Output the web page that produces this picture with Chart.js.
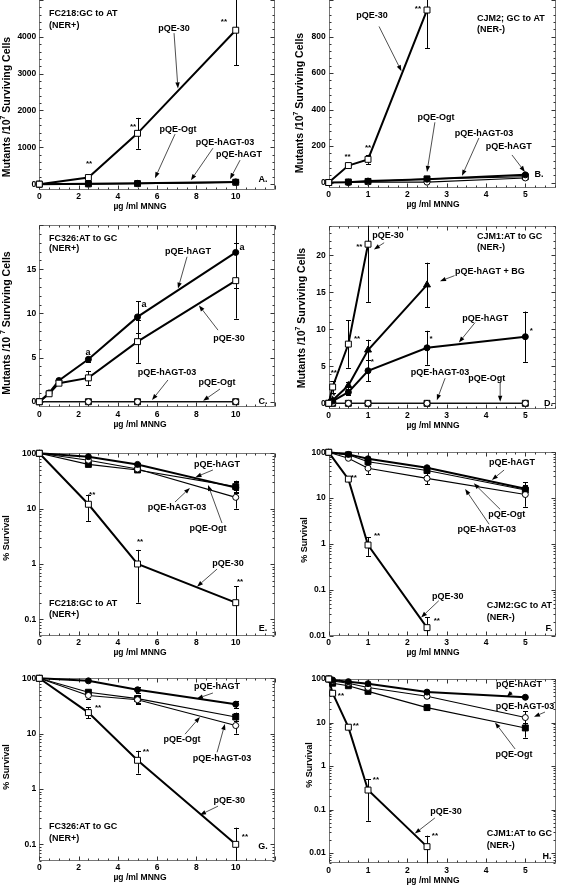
<!DOCTYPE html>
<html><head><meta charset="utf-8">
<script src="https://cdn.jsdelivr.net/npm/chart.js@4.4.1/dist/chart.umd.min.js"></script>
<style>
html,body{margin:0;padding:0;background:#fff;}
body{width:565px;height:888px;position:relative;overflow:hidden;}
canvas{position:absolute;}
</style></head><body>
<canvas id="pA"></canvas><canvas id="pB"></canvas>
<canvas id="pC"></canvas><canvas id="pD"></canvas>
<canvas id="pE"></canvas><canvas id="pF"></canvas>
<canvas id="pG"></canvas><canvas id="pH"></canvas>
<script>
const FONT = '"Liberation Sans", Arial, Helvetica, sans-serif';

// ---------- tick labels ----------
const xTicksWide = [0, 2, 4, 6, 8, 10];
const xTicksNarrow = [0, 1, 2, 3, 4, 5];
const yTicksA = [0, 1000, 2000, 3000, 4000];
const yTicksB = [0, 200, 400, 600, 800];
const yTicksC = [0, 5, 10, 15];
const yTicksD = [0, 5, 10, 15, 20];
const yTicksLog3 = [0.1, 1, 10, 100];
const yTicksLog4 = [0.01, 0.1, 1, 10, 100];

// ---------- Panel A: FC218 GC->AT (NER+), mutants ----------
const doseA = [0, 2.5, 5, 10];
const pqe30A = [0, 180, 1380, 4180];
const pqe30AErr = [0, 0, 420, 950];
const hagtA = [0, 12, 22, 62];
const hagt03A = [0, 4, 12, 45];
const ogtA = [0, 8, 16, 52];

// ---------- Panel B: CJM2 GC->AT (NER-), mutants ----------
const doseB = [0, 0.5, 1, 2.5, 5];
const pqe30B = [0, 93, 127, 945];
const pqe30BErr = [0, 8, 25, 210];
const hagtB = [0, 2, 8, 18, 42];
const hagt03B = [0, 0, 3, 2, 25];
const ogtB = [0, 3, 6, 20, 32];

// ---------- Panel C: FC326 AT->GC (NER+), mutants ----------
const doseC = [0, 0.5, 1, 2.5, 5, 10];
const hagtC = [0, 1.0, 2.4, 4.8, 9.6, 16.9];
const hagtCErr = [0, 0, 0, 0.3, 1.8, 4.0];
const pqe30C = [0, 0.9, 2.1, 2.7, 6.8, 13.7];
const pqe30CErr = [0, 0, 0, 0.8, 2.4, 4.3];
const doseC2 = [0, 2.5, 5, 10];
const hagt03C = [0, 0, 0, 0];
const ogtC = [0, 0, 0, 0];

// ---------- Panel D: CJM1 AT->GC (NER-), mutants ----------
const doseD = [0, 0.1, 0.5, 1, 2.5, 5];
const pqe30D = [0, 2.2, 8.0, 21.5];
const pqe30DErr = [0, 0.8, 3.2, 7.8];
const bgD = [0, 0.4, 2.4, 7.2, 16.0];
const bgDErr = [0, 0.2, 0.5, 1.4, 3.0];
const hagtD = [0, 0.3, 1.5, 4.4, 7.5, 9.0];
const hagtDErr = [0, 0.2, 0.4, 1.4, 2.3, 3.4];
const hagt03D = [0, 0, 0, 0, 0, 0];
const ogtD = [0, 0, 0, 0, 0, 0];

// ---------- Panel E: FC218 survival ----------
const doseE = [0, 2.5, 5, 10];
const pqe30E = [100, 12, 1.0, 0.2];
const pqe30ELo = [100, 6, 0.2, 0.01];
const pqe30EHi = [100, 18, 1.8, 0.4];
const hagtE = [100, 87, 63, 24];
const hagtELo = [100, 80, 58, 20];
const hagtEHi = [100, 94, 68, 30];
const ogtE = [100, 63, 50, 25];
const ogtELo = [100, 58, 45, 19];
const ogtEHi = [100, 70, 55, 32];
const hagt03E = [100, 75, 52, 16];
const hagt03ELo = [100, 68, 46, 10];
const hagt03EHi = [100, 82, 58, 22];

// ---------- Panel F: CJM2 survival ----------
const doseF = [0, 0.5, 1, 2.5, 5];
const pqe30F = [100, 26, 0.95, 0.015];
const pqe30FLo = [100, 24, 0.55, 0.005];
const pqe30FHi = [100, 28, 1.4, 0.025];
const hagtF = [100, 90, 72, 46, 16];
const hagtFLo = [100, 86, 66, 42, 14];
const hagtFHi = [100, 94, 78, 50, 19];
const ogtF = [100, 88, 62, 40, 15];
const ogtFLo = [100, 84, 56, 36, 13];
const ogtFHi = [100, 92, 68, 44, 18];
const hagt03F = [100, 74, 45, 27, 12];
const hagt03FLo = [100, 70, 34, 20, 6.5];
const hagt03FHi = [100, 80, 55, 35, 22];

// ---------- Panel G: FC326 survival ----------
const doseG = [0, 2.5, 5, 10];
const pqe30G = [100, 24, 3.3, 0.1];
const pqe30GLo = [100, 19, 1.9, 0.02];
const pqe30GHi = [100, 30, 4.9, 0.2];
const hagtG = [100, 90, 62, 34];
const hagtGLo = [100, 84, 55, 29];
const hagtGHi = [100, 96, 70, 39];
const ogtG = [100, 56, 43, 20];
const ogtGLo = [100, 50, 36, 17];
const ogtGHi = [100, 62, 50, 24];
const hagt03G = [100, 49, 41, 14];
const hagt03GLo = [100, 43, 35, 10];
const hagt03GHi = [100, 55, 48, 17];

// ---------- Panel H: CJM1 survival ----------
const doseH = [0, 0.1, 0.5, 1, 2.5, 5];
const pqe30H = [100, 47, 7.8, 0.28, 0.014];
const pqe30HLo = [100, 45, 7.3, 0.055, 0.003];
const pqe30HHi = [100, 49, 8.3, 0.5, 0.025];
const hagtH = [100, 95, 87, 78, 50, 38];
const hagtHLo = [100, 92, 84, 74, 46, 36];
const hagtHHi = [100, 98, 90, 82, 54, 40];
const hagt03H = [100, 90, 80, 64, 40, 13];
const hagt03HLo = [100, 86, 76, 60, 36, 9.5];
const hagt03HHi = [100, 94, 84, 68, 44, 18];
const ogtH = [100, 80, 70, 52, 22, 7.5];
const ogtHLo = [100, 76, 66, 48, 19, 4.5];
const ogtHHi = [100, 84, 74, 56, 25, 10];

// ---------- annotations: [text, x, y, align, arrowFromX, arrowFromY, arrowToX, arrowToY] (data units) ----------
const notesA = [
  ['FC218:GC to AT', 0.5, 4620, 'l'], ['(NER+)', 0.5, 4320, 'l'],
  ['pQE-30', 6.86, 4236, 'c', 6.86, 4100, 7.06, 2600],
  ['**', 9.4, 4407, 'c'], ['**', 4.77, 1548, 'c'], ['**', 2.53, 543, 'c'],
  ['pQE-Ogt', 7.06, 1494, 'c', 6.91, 1358, 5.89, 163],
  ['pQE-hAGT-03', 9.46, 1140, 'c', 8.84, 977, 7.72, 109],
  ['pQE-hAGT', 10.17, 815, 'c', 10.22, 652, 9.71, 136],
  ['A.', 11.39, 136, 'c']
];
const notesB = [
  ['pQE-30', 1.10, 915, 'c', 1.28, 855, 1.85, 610],
  ['CJM2; GC to AT', 3.77, 898, 'l'], ['(NER-)', 3.77, 838, 'l'],
  ['**', 2.27, 952, 'c'], ['**', 1.0, 191, 'c'], ['**', 0.48, 142, 'c'],
  ['pQE-Ogt', 2.73, 358, 'c', 2.70, 330, 2.50, 58],
  ['pQE-hAGT-03', 3.95, 271, 'c', 3.82, 244, 3.39, 37],
  ['pQE-hAGT', 4.58, 195, 'c', 4.66, 151, 4.99, 58],
  ['B.', 5.35, 42, 'c']
];
const notesC = [
  ['FC326:AT to GC', 0.49, 18.5, 'l'], ['(NER+)', 0.49, 17.3, 'l'],
  ['pQE-hAGT', 7.57, 17.05, 'c', 7.52, 16.4, 7.06, 12.8],
  ['pQE-30', 9.66, 7.2, 'c', 9.10, 8.1, 8.13, 10.9],
  ['a', 10.32, 17.4, 'c'], ['a', 5.33, 10.95, 'c'], ['a', 2.48, 5.6, 'c'],
  ['pQE-hAGT-03', 6.50, 3.25, 'c', 6.55, 2.46, 5.74, 0.19],
  ['pQE-Ogt', 9.05, 2.12, 'c', 9.2, 1.44, 8.34, 0.1],
  ['C.', 11.39, 0, 'c']
];
const notesD = [
  ['CJM1:AT to GC', 3.77, 22.5, 'l'], ['(NER-)', 3.77, 21.0, 'l'],
  ['pQE-30', 1.51, 22.7, 'c', 1.41, 21.7, 1.15, 20.8],
  ['pQE-hAGT + BG', 4.10, 17.8, 'c', 3.20, 17.25, 2.83, 16.5],
  ['pQE-hAGT', 3.98, 11.5, 'c', 3.72, 10.9, 3.31, 8.2],
  ['pQE-hAGT-03', 2.83, 4.1, 'c', 2.96, 3.4, 2.75, 0.4],
  ['pQE-Ogt', 4.02, 3.4, 'c', 4.36, 2.75, 4.36, 0.2],
  ['*', 1.11, 5.6, 'c'], ['*', 2.60, 8.7, 'c'], ['*', 5.15, 9.8, 'c'], ['*', 0.13, 1.0, 'c'],
  ['**', 0.78, 21.2, 'c'], ['**', 0.72, 8.7, 'c'], ['**', 0.13, 4.1, 'c'],
  ['D.', 5.59, 0, 'c']
];
const notesE = [
  ['pQE-hAGT', 9.05, 64, 'c', 8.84, 50, 7.95, 37],
  ['pQE-hAGT-03', 7.01, 10.7, 'c', 6.91, 13.2, 7.67, 23.7],
  ['pQE-Ogt', 8.59, 4.3, 'c', 9.30, 5.5, 8.59, 26.8],
  ['pQE-30', 9.61, 1.0, 'c', 9.05, 0.81, 8.03, 0.39],
  ['FC218:GC to AT', 0.49, 0.19, 'l'], ['(NER+)', 0.49, 0.12, 'l'],
  ['E.', 11.39, 0.067, 'c'],
  ['**', 2.69, 17.7, 'c'], ['**', 5.13, 2.5, 'c'], ['**', 10.22, 0.47, 'c']
];
const notesF = [
  ['pQE-hAGT', 4.66, 58.5, 'c', 4.46, 41, 4.15, 25],
  ['pQE-Ogt', 4.53, 4.5, 'c', 4.36, 5.7, 3.69, 21.1],
  ['pQE-hAGT-03', 4.02, 2.1, 'c', 4.08, 2.7, 3.47, 15.8],
  ['pQE-30', 3.03, 0.073, 'c', 2.80, 0.058, 2.35, 0.025],
  ['**', 0.64, 27.6, 'c'], ['**', 1.23, 1.5, 'c'], ['**', 2.75, 0.0208, 'c'],
  ['CJM2:GC to AT', 4.02, 0.045, 'l'], ['(NER-)', 4.02, 0.025, 'l'],
  ['F.', 5.6, 0.0142, 'c']
];
const notesG = [
  ['pQE-hAGT', 9.05, 69.7, 'c', 8.84, 54.3, 8.03, 43],
  ['pQE-Ogt', 7.27, 7.7, 'c', 7.42, 9.8, 8.18, 20],
  ['pQE-hAGT-03', 9.30, 3.6, 'c', 9.05, 4.6, 9.45, 15],
  ['pQE-30', 9.67, 0.61, 'c', 9.1, 0.49, 8.18, 0.34],
  ['FC326:AT to GC', 0.49, 0.207, 'l'], ['(NER+)', 0.49, 0.13, 'l'],
  ['G.', 11.39, 0.093, 'c'],
  ['**', 2.99, 29.1, 'c'], ['**', 5.43, 4.7, 'c'], ['**', 10.47, 0.137, 'c']
];
const notesH = [
  ['pQE-hAGT', 4.84, 72.8, 'c', 4.66, 50.3, 4.53, 39],
  ['pQE-hAGT-03', 4.99, 22.7, 'c', 5.5, 17.4, 5.22, 13.5],
  ['pQE-Ogt', 4.71, 1.79, 'c', 4.74, 2.46, 4.23, 10],
  ['pQE-30', 2.98, 0.0877, 'c', 2.70, 0.064, 2.19, 0.028],
  ['**', 0.31, 40.6, 'c'], ['**', 0.69, 8.3, 'c'], ['**', 1.2, 0.48, 'c'], ['**', 2.70, 0.0244, 'c'],
  ['CJM1:AT to GC', 4.02, 0.0288, 'l'], ['(NER-)', 4.02, 0.0152, 'l'],
  ['H.', 5.55, 0.0085, 'c']
];

// ---------- series styles ----------
const STYLE = {
  pqe30:  {pointStyle: 'rect', pointRadius: 4.2, pointBackgroundColor: '#fff', borderWidth: 2},
  hagt:   {pointStyle: 'circle', pointRadius: 3, pointBackgroundColor: '#000', borderWidth: 2},
  hagt03: {pointStyle: 'circle', pointRadius: 3, pointBackgroundColor: '#fff', borderWidth: 1.1},
  ogt:    {pointStyle: 'rect', pointRadius: 4.2, pointBackgroundColor: '#000', borderWidth: 1.1},
  bg:     {pointStyle: 'triangle', pointRadius: 4, pointBackgroundColor: '#000', borderWidth: 2}
};
function series(kind, dose, vals, lo, hi) {
  return Object.assign({
    label: kind,
    data: vals.map((v, i) => ({x: dose[i], y: v})),
    borderColor: '#000', pointBorderColor: '#000', pointBorderWidth: 1,
    showLine: true, tension: 0, fill: false, clip: false,
    errLo: lo || null, errHi: hi || null
  }, STYLE[kind]);
}
const minus = (v, e) => v.map((x, i) => x - e[i]);
const plus = (v, e) => v.map((x, i) => x + e[i]);

const MUT = [{t: 'Mutants /10', s: 10.5}, {t: '7', s: 7, dy: -4}, {t: ' Surviving Cells', s: 10.5}];
const SURV = [{t: '% Survival', s: 9}];

const panels = [
  {id: 'pA', col: 0, area: {left: 39.3, right: 275, top: 0, bottom: 189.5}, openTop: true,
   x: {min: 0, max: 12, major: 2, minor: 0.5, ticks: xTicksWide},
   y: {type: 'linear', min: -145, max: 5000, major: 1000, minor: 200, ticks: yTicksA},
   yTitle: MUT, yTitlePos: [7, 107],
   datasets: [series('pqe30', doseA, pqe30A, minus(pqe30A, pqe30AErr), plus(pqe30A, pqe30AErr)),
              series('hagt', doseA, hagtA), series('hagt03', doseA, hagt03A), series('ogt', doseA, ogtA)],
   notes: notesA},
  {id: 'pB', col: 1, area: {left: 328.7, right: 556, top: 0, bottom: 188}, openTop: true,
   x: {min: 0, max: 5.78, major: 1, minor: 0.25, ticks: xTicksNarrow},
   y: {type: 'linear', min: -30, max: 1000, major: 200, minor: 40, ticks: yTicksB},
   yTitle: MUT, yTitlePos: [300, 103],
   datasets: [series('pqe30', doseB, pqe30B, minus(pqe30B, pqe30BErr), plus(pqe30B, pqe30BErr)),
              series('hagt', doseB, hagtB), series('hagt03', doseB, hagt03B), series('ogt', doseB, ogtB)],
   notes: notesB},
  {id: 'pC', col: 0, area: {left: 39.3, right: 275, top: 225, bottom: 407.3},
   x: {min: 0, max: 12, major: 2, minor: 0.5, ticks: xTicksWide},
   y: {type: 'linear', min: -0.63, max: 20, major: 5, minor: 1, ticks: yTicksC},
   yTitle: [{t: 'Mutants /10 ', s: 10.5}, {t: '7', s: 7, dy: -4}, {t: ' Surviving Cells', s: 10.5}], yTitlePos: [7, 323],
   datasets: [series('pqe30', doseC, pqe30C, minus(pqe30C, pqe30CErr), plus(pqe30C, pqe30CErr)),
              series('hagt', doseC, hagtC, minus(hagtC, hagtCErr), plus(hagtC, hagtCErr)),
              series('hagt03', doseC2, hagt03C), series('ogt', doseC2, ogtC)],
   notes: notesC},
  {id: 'pD', col: 1, area: {left: 328.7, right: 556, top: 225.7, bottom: 409},
   x: {min: 0, max: 5.78, major: 1, minor: 0.25, ticks: xTicksNarrow},
   y: {type: 'linear', min: -0.77, max: 24, major: 5, minor: 1, ticks: yTicksD},
   yTitle: MUT, yTitlePos: [302, 318],
   datasets: [series('pqe30', doseD, pqe30D, minus(pqe30D, pqe30DErr), plus(pqe30D, pqe30DErr)),
              series('bg', doseD, bgD, minus(bgD, bgDErr), plus(bgD, bgDErr)),
              series('hagt', doseD, hagtD, minus(hagtD, hagtDErr), plus(hagtD, hagtDErr)),
              series('hagt03', doseD, hagt03D), series('ogt', doseD, ogtD)],
   notes: notesD},
  {id: 'pE', col: 0, area: {left: 39.3, right: 275, top: 453.3, bottom: 636},
   x: {min: 0, max: 12, major: 2, minor: 0.5, ticks: xTicksWide},
   y: {type: 'logarithmic', min: 0.05, max: 100, ticks: yTicksLog3},
   yTitle: SURV, yTitlePos: [7, 538],
   datasets: [series('pqe30', doseE, pqe30E, pqe30ELo, pqe30EHi),
              series('hagt', doseE, hagtE, hagtELo, hagtEHi),
              series('hagt03', doseE, hagt03E, hagt03ELo, hagt03EHi),
              series('ogt', doseE, ogtE, ogtELo, ogtEHi)],
   notes: notesE},
  {id: 'pF', col: 1, area: {left: 328.7, right: 556, top: 452.3, bottom: 635.7},
   x: {min: 0, max: 5.78, major: 1, minor: 0.25, ticks: xTicksNarrow},
   y: {type: 'logarithmic', min: 0.01, max: 100, ticks: yTicksLog4},
   yTitle: SURV, yTitlePos: [305, 540],
   datasets: [series('pqe30', doseF, pqe30F, pqe30FLo, pqe30FHi),
              series('hagt', doseF, hagtF, hagtFLo, hagtFHi),
              series('hagt03', doseF, hagt03F, hagt03FLo, hagt03FHi),
              series('ogt', doseF, ogtF, ogtFLo, ogtFHi)],
   notes: notesF},
  {id: 'pG', col: 0, area: {left: 39.3, right: 275, top: 678.3, bottom: 861},
   x: {min: 0, max: 12, major: 2, minor: 0.5, ticks: xTicksWide},
   y: {type: 'logarithmic', min: 0.05, max: 100, ticks: yTicksLog3},
   yTitle: SURV, yTitlePos: [7, 767],
   datasets: [series('pqe30', doseG, pqe30G, pqe30GLo, pqe30GHi),
              series('hagt', doseG, hagtG, hagtGLo, hagtGHi),
              series('hagt03', doseG, hagt03G, hagt03GLo, hagt03GHi),
              series('ogt', doseG, ogtG, ogtGLo, ogtGHi)],
   notes: notesG},
  {id: 'pH', col: 1, area: {left: 328.7, right: 556, top: 679, bottom: 863.3},
   x: {min: 0, max: 5.78, major: 1, minor: 0.25, ticks: xTicksNarrow},
   y: {type: 'logarithmic', min: 0.0058, max: 100, ticks: yTicksLog4},
   yTitle: SURV, yTitlePos: [310, 765],
   datasets: [series('pqe30', doseH, pqe30H, pqe30HLo, pqe30HHi),
              series('hagt', doseH, hagtH, hagtHLo, hagtHHi),
              series('hagt03', doseH, hagt03H, hagt03HLo, hagt03HHi),
              series('ogt', doseH, ogtH, ogtHLo, ogtHHi)],
   notes: notesH}
];

// ---------- drawing helpers ----------
const isMult = (v, m) => Math.abs(v / m - Math.round(v / m)) < 1e-6;
function tickValues(scale, minor) {
  const out = [];
  const start = Math.ceil(scale.min / minor - 1e-9);
  for (let k = start; k * minor <= scale.max + 1e-9; k++) out.push(k * minor);
  return out;
}
function logTickValues(scale) {
  const out = [];
  for (let d = Math.floor(Math.log10(scale.min)); d <= Math.ceil(Math.log10(scale.max)); d++) {
    for (let k = 1; k <= 9; k++) {
      const v = k * Math.pow(10, d);
      if (v >= scale.min * 0.999 && v <= scale.max * 1.001) out.push({v, major: k === 1});
    }
  }
  return out;
}
function arrow(ctx, ax, ay, bx, by) {
  const ang = Math.atan2(by - ay, bx - ax), L = 6, W = 2.2;
  const hx = bx - L * Math.cos(ang), hy = by - L * Math.sin(ang);
  ctx.strokeStyle = '#222'; ctx.lineWidth = 0.8;
  ctx.beginPath(); ctx.moveTo(ax, ay); ctx.lineTo(hx, hy); ctx.stroke();
  ctx.fillStyle = '#000';
  ctx.beginPath(); ctx.moveTo(bx, by);
  ctx.lineTo(hx - W * Math.sin(ang), hy + W * Math.cos(ang));
  ctx.lineTo(hx + W * Math.sin(ang), hy - W * Math.cos(ang));
  ctx.closePath(); ctx.fill();
}

const paper = {
  id: 'paper',
  beforeDatasetsDraw(chart, args, o) {
    const {ctx, chartArea: a} = chart;
    const xs = chart.scales.x, ys = chart.scales.y;
    const L = Math.round(a.left) + 0.5, R = Math.round(a.right) - 0.5;
    const T = Math.round(a.top) + 0.5, B = Math.round(a.bottom) - 0.5;
    ctx.save();
    ctx.strokeStyle = '#777'; ctx.lineWidth = 1;
    ctx.beginPath();
    ctx.moveTo(L, T - (o.openTop ? 2 : 0)); ctx.lineTo(L, B); ctx.lineTo(R, B); ctx.lineTo(R, T - (o.openTop ? 2 : 0));
    if (!o.openTop) ctx.lineTo(L, T);
    ctx.stroke();
    ctx.strokeStyle = '#333';
    ctx.beginPath();
    tickValues(xs, o.xMinor).forEach(v => {
      const px = Math.round(xs.getPixelForValue(v)) + 0.5;
      const len = isMult(v, o.xMajor) ? 4 : 2;
      ctx.moveTo(px, B); ctx.lineTo(px, B - len);
      if (!o.openTop) { ctx.moveTo(px, T); ctx.lineTo(px, T + len); }
    });
    const yv = o.log ? logTickValues(ys) : tickValues(ys, o.yMinor).map(v => ({v, major: isMult(v, o.yMajor)}));
    yv.forEach(({v, major}) => {
      const py = Math.round(ys.getPixelForValue(v)) + 0.5;
      const len = major ? 4 : 2;
      ctx.moveTo(L, py); ctx.lineTo(L + len, py);
      ctx.moveTo(R, py); ctx.lineTo(R - len, py);
    });
    ctx.stroke();
    // error bars (drawn under markers)
    ctx.save();
    ctx.beginPath(); ctx.rect(a.left, a.top, a.width, a.height); ctx.clip();
    ctx.strokeStyle = '#000'; ctx.lineWidth = 1;
    chart.data.datasets.forEach(ds => {
      if (!ds.errLo) return;
      ds.data.forEach((p, j) => {
        const lo = ds.errLo[j], hi = ds.errHi[j];
        if (lo == null || hi == null || Math.abs(hi - lo) < 1e-12) return;
        const px = Math.round(xs.getPixelForValue(p.x)) + 0.5;
        const yl = ys.getPixelForValue(o.log ? Math.max(lo, 1e-6) : lo);
        const yh = ys.getPixelForValue(hi);
        ctx.beginPath();
        ctx.moveTo(px, yl); ctx.lineTo(px, yh);
        ctx.moveTo(px - 2.5, Math.round(yl) + 0.5); ctx.lineTo(px + 2.5, Math.round(yl) + 0.5);
        ctx.moveTo(px - 2.5, Math.round(yh) + 0.5); ctx.lineTo(px + 2.5, Math.round(yh) + 0.5);
        ctx.stroke();
      });
    });
    ctx.restore();
    ctx.restore();
  },
  afterDraw(chart, args, o) {
    const {ctx, chartArea: a} = chart;
    const xs = chart.scales.x, ys = chart.scales.y;
    ctx.save();
    ctx.fillStyle = '#000';
    ctx.textBaseline = 'middle';
    (o.notes || []).forEach(n => {
      const [t, x, y, al, x1, y1, x2, y2] = n;
      const size = (t === '**' || t === '*') ? 8 : 9;
      ctx.font = `bold ${size}px ${FONT}`;
      ctx.textAlign = al === 'l' ? 'left' : 'center';
      ctx.fillText(t, xs.getPixelForValue(x), ys.getPixelForValue(y));
      if (x1 !== undefined) arrow(ctx, xs.getPixelForValue(x1), ys.getPixelForValue(y1), xs.getPixelForValue(x2), ys.getPixelForValue(y2));
    });
    // x title
    ctx.fillStyle = '#000';
    ctx.font = `bold 8.5px ${FONT}`;
    ctx.textAlign = 'center';
    ctx.fillText('\u00b5g /ml MNNG', o.xTitleX, a.bottom + 17);
    // y title (rotated, with superscript parts)
    ctx.save();
    ctx.translate(o.yTitleX, o.yTitleY);
    ctx.rotate(-Math.PI / 2);
    ctx.textAlign = 'left';
    let total = 0;
    o.yTitle.forEach(p => { ctx.font = `bold ${p.s}px ${FONT}`; total += ctx.measureText(p.t).width; });
    let cx = -total / 2;
    o.yTitle.forEach(p => {
      ctx.font = `bold ${p.s}px ${FONT}`;
      ctx.fillText(p.t, cx, p.dy || 0);
      cx += ctx.measureText(p.t).width;
    });
    ctx.restore();
    ctx.restore();
  }
};
Chart.register(paper);

const fmt = v => String(v);

panels.forEach(p => {
  const cv = document.getElementById(p.id);
  const cl = p.col ? 282 : 0, cw = p.col ? 283 : 282;
  const top = Math.floor(p.area.top - 10);
  const bottom = Math.ceil(p.area.bottom + 27);
  const h = bottom - top;
  cv.width = cw; cv.height = h;
  cv.style.left = cl + 'px'; cv.style.top = top + 'px';
  cv.style.width = cw + 'px'; cv.style.height = h + 'px';
  const yW = p.area.left - cl, padR = cl + cw - p.area.right, padT = p.area.top - top, xH = bottom - p.area.bottom;
  const tickFont = {family: FONT, size: 8.5, weight: 'bold'};
  new Chart(cv, {
    type: 'scatter',
    data: {datasets: p.datasets},
    options: {
      animation: false, responsive: false, devicePixelRatio: 1,
      events: [],
      layout: {padding: {top: padT, right: padR, left: 0, bottom: 0}},
      plugins: {
        legend: {display: false}, tooltip: {enabled: false},
        paper: {
          openTop: !!p.openTop, log: p.y.type === 'logarithmic',
          xMajor: p.x.major, xMinor: p.x.minor, yMajor: p.y.major, yMinor: p.y.minor,
          notes: p.notes, yTitle: p.yTitle,
          yTitleX: p.yTitlePos[0] - cl, yTitleY: p.yTitlePos[1] - top,
          xTitleX: (p.col ? 433 : 140) - cl
        }
      },
      scales: {
        x: {
          type: 'linear', min: p.x.min, max: p.x.max,
          grid: {display: false, drawTicks: false}, border: {display: false},
          afterBuildTicks: s => { s.ticks = p.x.ticks.map(v => ({value: v})); },
          afterFit: s => { s.height = xH; },
          ticks: {font: tickFont, color: '#000', padding: 2, maxRotation: 0, minRotation: 0, autoSkip: false, callback: fmt}
        },
        y: {
          type: p.y.type, min: p.y.min, max: p.y.max,
          grid: {display: false, drawTicks: false}, border: {display: false},
          afterBuildTicks: s => { s.ticks = p.y.ticks.map(v => ({value: v})); },
          afterFit: s => { s.width = yW; },
          ticks: {font: tickFont, color: '#000', padding: 3, autoSkip: false, callback: fmt}
        }
      }
    }
  });
});
</script>
</body></html>
